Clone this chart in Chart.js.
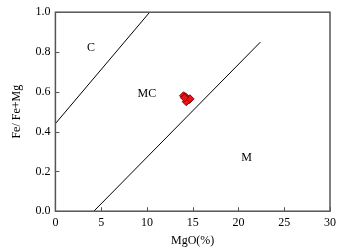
<!DOCTYPE html>
<html>
<head>
<meta charset="utf-8">
<script src="https://cdn.jsdelivr.net/npm/chart.js@4/dist/chart.umd.min.js"></script>
<style>
body { margin: 0; background: #fff; }
#wrap { width: 341px; height: 248px; }
</style>
</head>
<body>
<div id="wrap"><canvas id="plot"></canvas></div>
<script>
Chart.defaults.font.family = '"Liberation Serif", "Times New Roman", serif';
Chart.defaults.color = '#000';

// sample points (MgO %, Fe/Fe+Mg)
var mgo = [14.0, 14.2, 14.4, 14.6, 14.3, 14.7, 14.1];
var feRatio = [0.58, 0.575, 0.565, 0.56, 0.55, 0.565, 0.57];

// boundary lines
var lineUpperX = [0, 10.3];
var lineUpperY = [0.44, 1.0];
var lineLowerX = [4.2, 22.4];
var lineLowerY = [0.0, 0.85];

// field names
var fieldNames = ['C', 'MC', 'M'];
var fieldX = [3.9, 10.0, 20.9];
var fieldY = [0.82, 0.59, 0.27];

var xTicks = [0, 5, 10, 15, 20, 25, 30];
var yTicks = [0, 0.2, 0.4, 0.6, 0.8, 1.0];

function pairs(xs, ys) {
	return xs.map(function (x, i) { return { x: x, y: ys[i] }; });
}

var inwardTicks = {
	id: 'inwardTicks',
	afterDatasetsDraw: function (chart) {
		var c = chart.ctx, a = chart.chartArea;
		var sx = chart.scales.x, sy = chart.scales.y;
		c.save();
		c.strokeStyle = '#555';
		c.lineWidth = 1;
		c.beginPath();
		xTicks.forEach(function (v) {
			var px = Math.round(sx.getPixelForValue(v)) + 0.5;
			c.moveTo(px, a.bottom);
			c.lineTo(px, a.bottom - 4);
		});
		yTicks.forEach(function (v) {
			var py = Math.round(sy.getPixelForValue(v)) + 0.5;
			c.moveTo(a.left, py);
			c.lineTo(a.left + 4, py);
		});
		c.stroke();
		c.strokeStyle = '#555';
		c.lineWidth = 1.5;
		c.strokeRect(a.left, a.top, a.right - a.left, a.bottom - a.top);
		c.fillStyle = '#000';
		c.font = '12px "Liberation Serif", serif';
		c.textAlign = 'center';
		c.textBaseline = 'middle';
		fieldNames.forEach(function (n, i) {
			c.fillText(n, sx.getPixelForValue(fieldX[i]), sy.getPixelForValue(fieldY[i]));
		});
		c.restore();
	}
};

var ctx = document.getElementById('plot').getContext('2d');
var chart = new Chart(ctx, {
	type: 'scatter',
	data: {
		datasets: [{
			type: 'line',
			data: pairs(lineUpperX, lineUpperY),
			borderColor: '#000',
			borderWidth: 1,
			pointRadius: 0,
			fill: false
		}, {
			type: 'line',
			data: pairs(lineLowerX, lineLowerY),
			borderColor: '#000',
			borderWidth: 1,
			pointRadius: 0,
			fill: false
		}, {
			data: pairs(mgo, feRatio),
			pointStyle: 'rectRot',
			pointRadius: 4,
			backgroundColor: '#e8141b',
			borderColor: '#8a0000',
			borderWidth: 1
		}]
	},
	options: {
		responsive: true,
		maintainAspectRatio: false,
		animation: false,
		layout: { padding: { top: 12, right: 11, left: 10, bottom: 0 } },
		plugins: {
			legend: { display: false },
			tooltip: { enabled: false }
		},
		scales: {
			x: {
				type: 'linear',
				min: 0,
				max: 30,
				afterBuildTicks: function (s) { s.ticks = xTicks.map(function (v) { return { value: v }; }); },
				grid: { display: false, drawTicks: false },
				border: { display: false },
				ticks: { font: { size: 12 }, padding: 4, maxRotation: 0 },
				title: { display: true, text: 'MgO(%)', font: { size: 12 }, padding: { top: 0, bottom: 0 } }
			},
			y: {
				type: 'linear',
				min: 0,
				max: 1,
				afterBuildTicks: function (s) { s.ticks = yTicks.map(function (v) { return { value: v }; }); },
				grid: { display: false, drawTicks: false },
				border: { display: false },
				ticks: {
					font: { size: 12 },
					padding: 5,
					callback: function (v) { return v.toFixed(1); }
				},
				title: { display: true, text: 'Fe/ Fe+Mg', font: { size: 12 }, padding: { top: 0, bottom: 6 } }
			}
		}
	},
	plugins: [inwardTicks]
});
</script>
</body>
</html>
